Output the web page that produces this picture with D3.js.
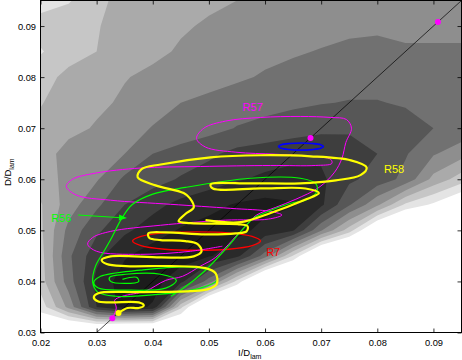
<!DOCTYPE html>
<html>
<head>
<meta charset="utf-8">
<script src="https://cdn.jsdelivr.net/npm/d3@7"></script>
<style>
body{margin:0;background:#fff;}
svg{display:block;font-family:"Liberation Sans",Arial,Helvetica,sans-serif;}
</style>
</head>
<body>
<svg id="chart" width="462" height="360"></svg>
<script>
// grid of the background density (band level at each node)
const gridX = [0.020,0.025,0.030,0.035,0.040,0.045,0.050,0.055,0.060,0.065,0.070,0.075,0.080,0.085,0.090,0.095];
const gridY = [0.095,0.090,0.085,0.080,0.075,0.070,0.065,0.060,0.055,0.050,0.045,0.040,0.035,0.030];
const density = [
  [1.0,1.4,2.2,2.9,3.0,3.2,3.35,3.5,3.8,4.0,4.0,4.0,4.0,4.0,4.0,4.0],
  [2.0,2.2,2.45,2.8,3.1,3.4,3.6,3.8,4.0,4.1,4.2,4.3,4.35,4.3,4.3,4.3],
  [1.4,2.2,2.5,2.9,3.3,3.6,3.9,4.1,4.25,4.4,4.55,4.7,4.75,4.6,4.6,4.6],
  [2.2,2.7,3.2,3.45,3.7,3.9,4.1,4.35,4.6,4.8,5.0,5.1,5.1,4.9,5.0,5.0],
  [2.45,2.9,3.3,3.65,4.1,4.5,4.75,5.0,5.15,5.3,5.45,5.55,5.55,5.4,5.2,5.1],
  [2.7,3.2,3.6,4.1,4.55,4.85,5.15,5.55,5.8,6.05,6.25,6.3,6.2,5.9,5.5,5.2],
  [3.0,3.9,4.2,4.5,5.5,5.9,6.3,6.8,7.0,7.2,7.3,7.1,6.5,5.6,4.6,3.9],
  [3.0,3.8,4.4,5.7,6.1,6.6,7.0,7.4,7.7,7.9,7.7,6.7,6.1,5.2,3.2,2.0],
  [2.4,4.0,5.3,6.5,7.2,7.8,8.2,8.6,8.8,8.6,7.7,5.6,3.7,1.3,0.3,-1.0],
  [2.3,4.8,6.3,7.3,8.0,8.6,8.9,8.8,8.2,7.6,4.6,2.0,-1.5,-3,-3,-3],
  [2.1,5.3,7.2,8.4,9.0,9.0,8.6,7.8,5.0,1.4,-2.5,-4,-4,-4,-4,-4],
  [2.0,5.0,7.8,9.0,8.9,7.8,5.0,1.2,-3,-4,-4,-4,-4,-4,-4,-4],
  [0.9,3.8,7.5,8.9,8.4,1.8,-3,-4,-4,-4,-4,-4,-4,-4,-4,-4],
  [-1,-2.5,-3,-4,-4,-3,-4,-4,-4,-4,-4,-4,-4,-4,-4,-4]
];
const bandLevels = [0.5,1.5,2.5,3.5,4.5,5.5,6.5,7.5,8.5];
const bandColors = ["#e4e4e4","#c6c6c6","#aaaaaa","#8e8e8e","#717171","#575757","#3e3e3e","#2a2a2a","#1c1c1c"];

const xTicks = [0.02,0.03,0.04,0.05,0.06,0.07,0.08,0.09];
const yTicks = [0.03,0.04,0.05,0.06,0.07,0.08,0.09];

// trajectories [I/Dlam, D/Dlam]
const r57 = [[.0328,.0328],[.0335,.0348],[.0332,.0363],[.0346,.0371],[.0387,.0381],[.0423,.0402],[.0453,.0410],
  [.0485,.0430],[.0512,.0447],[.0542,.0481],[.0565,.0508],[.0585,.0530],[.0619,.0545],[.0655,.0561],[.0696,.0584],
  [.0724,.0614],[.0737,.0641],[.0744,.0672],[.0754,.0700],[.0745,.0717],[.0717,.0721],[.0663,.0723],[.0592,.0721],
  [.0530,.0714],[.0491,.0700],[.0478,.0680],[.0494,.0663],[.0548,.0653],[.0619,.0649],[.0681,.0645],[.0717,.0639],
  [.0719,.0631],[.0690,.0627],[.0610,.0627],[.0485,.0625],[.0378,.0622],[.0298,.0612],[.0257,.0600],[.0246,.0586],
  [.0264,.0569],[.0325,.0559],[.0432,.0551],[.0539,.0543],[.0610,.0537],[.0630,.0530],[.0606,.0522],[.0530,.0520],
  [.0414,.0510],[.0325,.0498],[.0293,.0486],[.0284,.0473],[.0300,.0459],[.0378,.0453],[.0467,.0459],[.0524,.0469]];
const r56 = [[.0346,.0404],[.0371,.0408],[.0375,.0400],[.0350,.0396],[.0325,.0400],[.0323,.0408],[.0352,.0414],
  [.0414,.0414],[.0442,.0402],[.0423,.0387],[.0352,.0383],[.0303,.0387],[.0295,.0398],[.0307,.0410],[.0378,.0422],
  [.0467,.0428],[.0510,.0418],[.0514,.0402],[.0485,.0387],[.0414,.0375],[.0334,.0371],[.0302,.0379],[.0293,.0398],
  [.0298,.0430],[.0312,.0457],[.0328,.0488],[.0344,.0522],[.0364,.0551],[.0400,.0571],[.0458,.0584],[.0574,.0602],
  [.0663,.0602],[.0690,.0592],[.0692,.0575],[.0672,.0559],[.0646,.0553],[.0601,.0535],[.0580,.0524],[.0557,.0498],
  [.0533,.0467],[.0494,.0422],[.0450,.0383],[.0432,.0371]];
const r58 = [[.0339,.0338],[.0355,.0348],[.0375,.0348],[.0384,.0353],[.0375,.0359],[.0325,.0359],[.0302,.0361],
  [.0295,.0369],[.0303,.0377],[.0378,.0379],[.0467,.0381],[.0499,.0385],[.0514,.0395],[.0512,.0416],[.0494,.0426],
  [.0432,.0430],[.0352,.0430],[.0318,.0434],[.0309,.0442],[.0325,.0449],[.0414,.0447],[.0473,.0449],[.0487,.0459],
  [.0480,.0473],[.0458,.0479],[.0414,.0481],[.0394,.0485],[.0392,.0494],[.0423,.0496],[.0494,.0492],[.0548,.0494],
  [.0567,.0498],[.0569,.0508],[.0551,.0512],[.0467,.0514],[.0446,.0518],[.0458,.0532],[.0473,.0545],[.0466,.0563],
  [.0455,.0573],[.0405,.0588],[.0373,.0604],[.0380,.0620],[.0414,.0629],[.0503,.0643],[.0592,.0647],[.0681,.0645],
  [.0753,.0637],[.0781,.0623],[.0770,.0608],[.0726,.0598],[.0663,.0592],[.0574,.0592],[.0503,.0590],[.0507,.0582],
  [.0592,.0582],[.0672,.0582],[.0696,.0573],[.0669,.0559],[.0610,.0534],[.0557,.0516],[.0494,.0520]];
const r7 = [[.0592,.0479],[.0577,.0488],[.0535,.0495],[.0478,.0497],[.0421,.0495],[.0379,.0488],
  [.0364,.0479],[.0379,.0470],[.0421,.0463],[.0478,.0461],[.0535,.0463],[.0577,.0470]];
const blueCycle = [[.0704,.0664],[.0699,.06675],[.0684,.0670],[.0664,.0671],[.0644,.0670],[.0629,.06675],
  [.0624,.0664],[.0629,.06605],[.0644,.0658],[.0664,.0657],[.0684,.0658],[.0699,.06605]];
const diagonal = [[0.03,0.03],[0.095,0.095]];
const magentaDots = [[.0328,.0328],[.0681,.0681],[.0908,.0908]];
const yellowDots = [[.0339,.0338]];
const r56Arrow = [[.0267,.0530],[.0354,.0524]];

const svg = d3.select("#chart");
const x = d3.scaleLinear().domain([0.02,0.095]).range([40.5,461.5]);
const y = d3.scaleLinear().domain([0.03,0.095]).range([332.5,0.5]);

svg.append("defs").append("clipPath").attr("id","plotclip")
  .append("rect").attr("x",x(0.02)).attr("y",y(0.095))
  .attr("width",x(0.095)-x(0.02)).attr("height",y(0.03)-y(0.095));

const plot = svg.append("g").attr("clip-path","url(#plotclip)");
plot.append("rect").attr("x",x(0.02)).attr("y",y(0.095))
  .attr("width",x(0.095)-x(0.02)).attr("height",y(0.03)-y(0.095)).attr("fill","#fff");

// filled contours
const nx = gridX.length, ny = gridY.length;
const gx = d3.scaleLinear().domain([0.5,nx-0.5]).range([gridX[0],gridX[nx-1]]);
const gy = d3.scaleLinear().domain([0.5,ny-0.5]).range([gridY[0],gridY[ny-1]]);
const contours = d3.contours().size([nx,ny]).thresholds(bandLevels)(density.flat());
const proj = d3.geoTransform({point(px,py){ this.stream.point(x(gx(px)), y(gy(py))); }});
const cpath = d3.geoPath(proj);
plot.selectAll("path.band").data(contours).join("path")
  .attr("class","band").attr("d",cpath)
  .attr("fill",(d,i)=>bandColors[i]).attr("fill-rule","evenodd").attr("stroke","none");

plot.append("path").datum(diagonal)
  .attr("d",d3.line().x(d=>x(d[0])).y(d=>y(d[1])))
  .attr("stroke","#000").attr("stroke-width",0.7).attr("fill","none");

const smooth = d3.line().x(d=>x(d[0])).y(d=>y(d[1])).curve(d3.curveCatmullRom.alpha(0.5));
const closed = d3.line().x(d=>x(d[0])).y(d=>y(d[1])).curve(d3.curveCatmullRomClosed.alpha(0.5));

plot.append("path").datum(r7).attr("d",closed)
  .attr("stroke","#ff0000").attr("stroke-width",1.3).attr("fill","none");
plot.append("path").datum(r57).attr("d",smooth)
  .attr("stroke","#ff00ff").attr("stroke-width",1).attr("fill","none");
plot.append("path").datum(r56).attr("d",smooth)
  .attr("stroke","#00ff00").attr("stroke-width",1.2).attr("fill","none");
plot.append("path").datum(blueCycle).attr("d",closed)
  .attr("stroke","#0000ff").attr("stroke-width",1.6).attr("fill","none");
plot.append("path").datum(r58).attr("d",smooth)
  .attr("stroke","#ffff00").attr("stroke-width",2.2).attr("fill","none");

plot.selectAll("circle.mdot").data(magentaDots).join("circle")
  .attr("class","mdot").attr("cx",d=>x(d[0])).attr("cy",d=>y(d[1])).attr("r",3).attr("fill","#ff00ff");
plot.selectAll("circle.ydot").data(yellowDots).join("circle")
  .attr("class","ydot").attr("cx",d=>x(d[0])).attr("cy",d=>y(d[1])).attr("r",3).attr("fill","#ffff00");

// R56 arrow
const a0 = r56Arrow[0], a1 = r56Arrow[1];
const ax0 = x(a0[0]), ay0 = y(a0[1]), ax1 = x(a1[0]), ay1 = y(a1[1]);
const ang = Math.atan2(ay1-ay0, ax1-ax0);
plot.append("line").attr("x1",ax0).attr("y1",ay0).attr("x2",ax1-6*Math.cos(ang)).attr("y2",ay1-6*Math.sin(ang))
  .attr("stroke","#00ff00").attr("stroke-width",1);
plot.append("path")
  .attr("d",`M${ax1},${ay1}L${ax1-8*Math.cos(ang)+3*Math.sin(ang)},${ay1-8*Math.sin(ang)-3*Math.cos(ang)}L${ax1-8*Math.cos(ang)-3*Math.sin(ang)},${ay1-8*Math.sin(ang)+3*Math.cos(ang)}Z`)
  .attr("fill","#00ff00");

// run labels
const labels = [
  {t:"R57", c:"#ff00ff", at:[0.0560,0.0733]},
  {t:"R58", c:"#ffff00", at:[0.0812,0.0612]},
  {t:"R56", c:"#00ff00", at:[0.0219,0.0516]},
  {t:"R7",  c:"#ff0000", at:[0.0602,0.0450]}
];
svg.selectAll("text.run").data(labels).join("text").attr("class","run")
  .attr("x",d=>x(d.at[0])).attr("y",d=>y(d.at[1])).attr("fill",d=>d.c)
  .attr("font-size",11).text(d=>d.t);

// axes: ticks inside, box
const fmt = d3.format(".2f");
function style(g){
  g.select(".domain").remove();
  g.selectAll(".tick line").attr("stroke","#000").attr("stroke-width",0.8);
  g.selectAll("text").attr("font-size",9.3).attr("fill","#000")
    .attr("font-family","'Liberation Sans',Arial,sans-serif");
}
svg.append("g").attr("transform",`translate(0,${y(0.03)})`)
  .call(d3.axisBottom(x).tickValues(xTicks).tickSizeInner(-4).tickSizeOuter(0).tickPadding(6.5).tickFormat(fmt)).call(style);
svg.append("g").attr("transform",`translate(0,${y(0.095)})`)
  .call(d3.axisTop(x).tickValues(xTicks).tickSizeInner(-4).tickSizeOuter(0).tickFormat("")).call(style);
svg.append("g").attr("transform",`translate(${x(0.02)},0)`)
  .call(d3.axisLeft(y).tickValues(yTicks).tickSizeInner(-4).tickSizeOuter(0).tickPadding(4.5).tickFormat(fmt)).call(style);
svg.append("g").attr("transform",`translate(${x(0.095)},0)`)
  .call(d3.axisRight(y).tickValues(yTicks).tickSizeInner(-4).tickSizeOuter(0).tickFormat("")).call(style);

svg.append("rect").attr("x",x(0.02)).attr("y",y(0.095))
  .attr("width",x(0.095)-x(0.02)).attr("height",y(0.03)-y(0.095))
  .attr("fill","none").attr("stroke","#000").attr("stroke-width",1);

// axis titles
const xt = svg.append("text").attr("x",238).attr("y",356).attr("font-size",9.5).attr("fill","#000");
xt.append("tspan").text("I/D");
xt.append("tspan").attr("font-size",7).attr("dy",3).text("lam");
const yt = svg.append("text").attr("transform","translate(11,186) rotate(-90)").attr("font-size",9.5).attr("fill","#000");
yt.append("tspan").text("D/D");
yt.append("tspan").attr("font-size",7).attr("dy",3).text("lam");
</script>
</body>
</html>
